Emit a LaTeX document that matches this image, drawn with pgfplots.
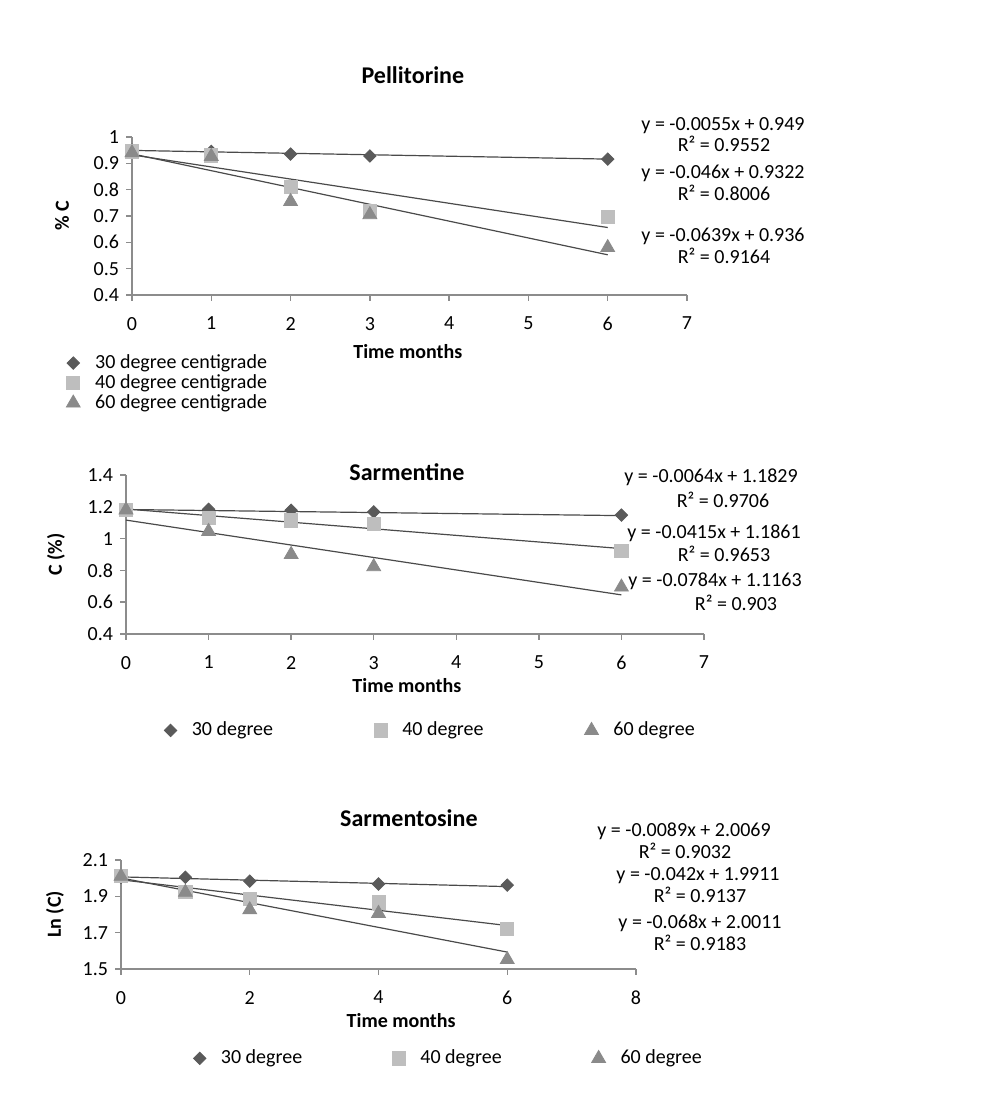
\documentclass[border=0pt]{standalone}
\usepackage{pgfplots}
\pgfplotsset{compat=1.18}
\usepackage{fontspec}
\setmainfont{Carlito}

\definecolor{d30}{HTML}{5A5A5A}
\definecolor{d40}{HTML}{BEBEBE}
\definecolor{d60}{HTML}{8A8A8A}
\definecolor{axisgray}{HTML}{8C8C8C}
\definecolor{fitline}{HTML}{4A4A4A}

\pgfplotsset{
  stability/.style={
    scale only axis,
    axis lines*=left,
    axis line style={axisgray, line width=0.7pt},
    every tick/.style={axisgray, line width=0.7pt},
    tick align=outside,
    major tick length=3pt,
    /pgf/number format/assume math mode=true,
    every axis title/.style={font=\bfseries\fontsize{12}{14}\selectfont, anchor=center},
    xlabel style={font=\bfseries, anchor=center},
    ylabel style={font=\bfseries, anchor=center},
    xticklabel style={yshift=-4.5pt},
    legend cell align=left,
    legend style={draw=none, fill=none, inner sep=0pt, anchor=north west,
      nodes={inner sep=0.5pt, text height=7pt, text depth=2pt},
      /tikz/every odd column/.append style={column sep=7pt}},
    clip=false,
  },
  s30/.style={only marks, mark=square*, mark size=2.2pt,
    mark options={rotate=45, fill=d30, draw=d30},
    legend image code/.code={\draw[##1] plot coordinates {(0pt,0pt)};}},
  s40/.style={only marks, mark=square*, mark size=3.3pt,
    mark options={fill=d40, draw=d40},
    legend image code/.code={\draw[##1] plot coordinates {(0pt,0pt)};}},
  s60/.style={only marks, mark=triangle*, mark size=4pt,
    mark options={fill=d60, draw=d60},
    legend image code/.code={\draw[##1] plot coordinates {(0pt,0pt)};}},
  fit/.style={fitline, line width=0.6pt, no marks, forget plot},
}

\newcommand\eq[3]{\node[anchor=center, inner sep=0pt, text height=7pt, text depth=2pt]
  at ({#1*0.5pt},{(1106-#2)*0.5pt}) {#3};}

\begin{document}
\fontsize{10}{12}\selectfont
\begin{tikzpicture}
\path[use as bounding box] (0,0) rectangle (500pt,553pt);

% Pellitorine
\begin{axis}[stability,
  at={(66pt,405.5pt)}, anchor=south west,
  width=277.5pt, height=79pt,
  xmin=0, xmax=7, ymin=0.4, ymax=1,
  xtick={0,1,...,7}, ytick={0.4,0.5,...,1.0},
  title={Pellitorine},
  title style={at={(axis description cs:0.506,1.392)}},
  xlabel={Time months},
  xlabel style={at={(axis description cs:0.497,-0.361)}},
  ylabel={\% C},
  ylabel style={at={(axis description cs:-0.126,0.5)}},
  legend style={at={(axis description cs:-0.119,-0.365)}},
]
\addplot[s30] coordinates {(0,0.95) (1,0.945) (2,0.935) (3,0.928) (6,0.916)};
\addplot[s40] coordinates {(0,0.945) (1,0.93) (2,0.81) (3,0.72) (6,0.697)};
\addplot[s60] coordinates {(0,0.94) (1,0.926) (2,0.755) (3,0.705) (6,0.58)};
\addplot[fit] coordinates {(0,0.949) (6,0.916)};
\addplot[fit] coordinates {(0,0.9322) (6,0.6562)};
\addplot[fit] coordinates {(0,0.936) (6,0.5526)};
\legend{30 degree centigrade, 40 degree centigrade, 60 degree centigrade}
\end{axis}

% Sarmentine
\begin{axis}[stability,
  at={(63pt,236pt)}, anchor=south west,
  width=289pt, height=79.5pt,
  xmin=0, xmax=7, ymin=0.4, ymax=1.4,
  xtick={0,1,...,7}, ytick={0.4,0.6,0.8,1.0,1.2,1.4},
  title={Sarmentine},
  title style={at={(axis description cs:0.486,1.019)}},
  xlabel={Time months},
  xlabel style={at={(axis description cs:0.486,-0.327)}},
  ylabel={C (\%)},
  ylabel style={at={(axis description cs:-0.121,0.5)}},
  legend columns=3,
  legend style={at={(axis description cs:0.0657,-0.541)},
    /tikz/every even column/.append style={column sep=50pt}},
]
\addplot[s30] coordinates {(0,1.187) (1,1.184) (2,1.178) (3,1.168) (6,1.148)};
\addplot[s40] coordinates {(0,1.18) (1,1.13) (2,1.115) (3,1.092) (6,0.925)};
\addplot[s60] coordinates {(0,1.18) (1,1.045) (2,0.9) (3,0.823) (6,0.695)};
\addplot[fit] coordinates {(0,1.1829) (6,1.1445)};
\addplot[fit] coordinates {(0,1.1861) (6,0.9371)};
\addplot[fit] coordinates {(0,1.1163) (6,0.6459)};
\legend{30 degree, 40 degree, 60 degree}
\end{axis}

% Sarmentosine
\begin{axis}[stability,
  at={(60.5pt,68.5pt)}, anchor=south west,
  width=257.5pt, height=54.5pt,
  xmin=0, xmax=8, ymin=1.5, ymax=2.1,
  xtick={0,2,4,6,8}, ytick={1.5,1.7,1.9,2.1},
  yticklabel style={/pgf/number format/.cd, fixed, precision=1},
  title={Sarmentosine},
  title style={at={(axis description cs:0.559,1.385)}},
  xlabel={Time months},
  xlabel style={at={(axis description cs:0.544,-0.477)}},
  ylabel={Ln (C)},
  ylabel style={at={(axis description cs:-0.128,0.5)}},
  legend columns=3,
  legend style={at={(axis description cs:0.140,-0.725)},
    /tikz/every even column/.append style={column sep=44.5pt}},
]
\addplot[s30] coordinates {(0,2.005) (1,2.005) (2,1.984) (4,1.968) (6,1.962)};
\addplot[s40] coordinates {(0,2.012) (1,1.924) (2,1.885) (4,1.867) (6,1.72)};
\addplot[s60] coordinates {(0,2.01) (1,1.922) (2,1.826) (4,1.806) (6,1.552)};
\addplot[fit] coordinates {(0,2.0069) (6,1.9535)};
\addplot[fit] coordinates {(0,1.9911) (6,1.7391)};
\addplot[fit] coordinates {(0,2.0011) (6,1.5931)};
\legend{30 degree, 40 degree, 60 degree}
\end{axis}

% trendline equations
\eq{723}{126}{y = -0.0055x + 0.949}
\eq{724}{147}{R² = 0.9552}
\eq{723}{174}{y = -0.046x + 0.9322}
\eq{724}{196}{R² = 0.8006}
\eq{723}{237}{y = -0.0639x + 0.936}
\eq{724}{259}{R² = 0.9164}

\eq{711}{478}{y = -0.0064x + 1.1829}
\eq{723}{503}{R² = 0.9706}
\eq{714}{534}{y = -0.0415x + 1.1861}
\eq{724}{557}{R² = 0.9653}
\eq{715}{582}{y = -0.0784x + 1.1163}
\eq{736}{606}{R² = 0.903}

\eq{684}{832}{y = -0.0089x + 2.0069}
\eq{685}{854}{R² = 0.9032}
\eq{698}{876}{y = -0.042x + 1.9911}
\eq{700}{898}{R² = 0.9137}
\eq{700}{924}{y = -0.068x + 2.0011}
\eq{700}{946}{R² = 0.9183}
\end{tikzpicture}
\end{document}
